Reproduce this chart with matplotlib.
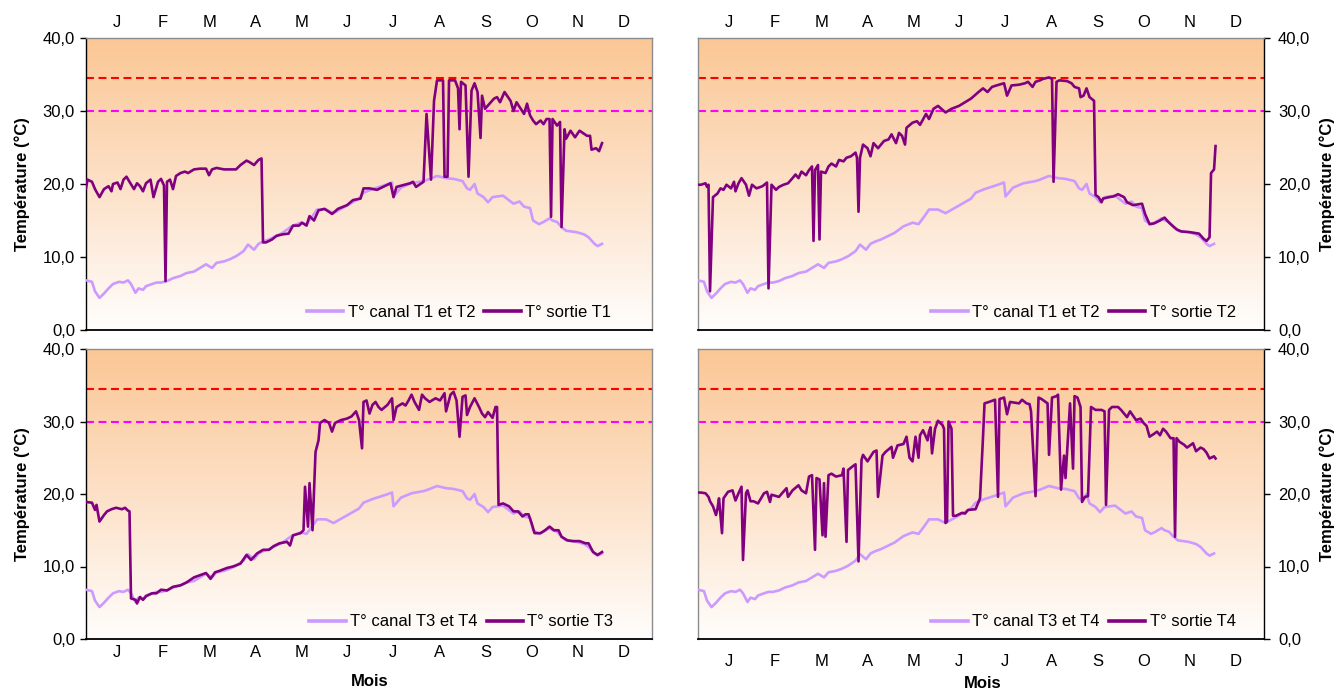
import numpy as np
import matplotlib
matplotlib.use('Agg')
import matplotlib.pyplot as plt
from matplotlib.colors import LinearSegmentedColormap
from matplotlib.lines import Line2D

plt.rcParams['font.family'] = ['Liberation Sans', 'DejaVu Sans']

# ---------------- data ----------------
mois = ['J', 'F', 'M', 'A', 'M', 'J', 'J', 'A', 'S', 'O', 'N', 'D']
y_ticks = [0, 10, 20, 30, 40]
y_ticklabels = ['0,0', '10,0', '20,0', '30,0', '40,0']
seuil_rouge = 34.5
seuil_magenta = 30.0

# canal temperature (same for T1/T2 and T3/T4), day index vs °C
canal_jours = [
    0, 4, 6, 9, 12, 15, 18, 22, 25, 28,
    30, 33, 35, 38, 40, 44, 47, 50, 54, 58,
    63, 67, 72, 76, 80, 84, 87, 92, 96, 100,
    105, 108, 112, 115, 118, 122, 126, 131, 137, 143,
    147, 151, 154, 160, 165, 171, 177, 182, 185, 191,
    200, 204, 205, 210, 217, 225, 228, 234, 240, 245,
    251, 254, 256, 259, 261, 265, 268, 271, 278, 285,
    289, 292, 296, 298, 302, 305, 309, 311, 314, 317,
    320, 327, 332, 335, 339, 341, 344]
canal_temp = [
    6.8, 6.6, 5.3, 4.4, 5.0, 5.7, 6.3, 6.6, 6.5, 6.8,
    6.3, 5.1, 5.7, 5.5, 6.0, 6.3, 6.5, 6.5, 6.7, 7.1,
    7.4, 7.8, 8.0, 8.5, 9.0, 8.5, 9.2, 9.4, 9.7, 10.1,
    10.8, 11.7, 11.0, 11.8, 12.1, 12.4, 12.8, 13.3, 14.2, 14.7,
    14.5, 15.6, 16.5, 16.5, 16.0, 16.7, 17.4, 18.0, 18.8, 19.3,
    19.9, 20.2, 18.3, 19.5, 20.1, 20.4, 20.6, 21.1, 20.8, 20.7,
    20.4, 19.4, 19.2, 20.0, 18.7, 18.2, 17.5, 18.2, 18.4, 17.3,
    17.6, 16.9, 16.7, 15.0, 14.5, 14.8, 15.3, 15.0, 14.8, 14.1,
    13.6, 13.4, 13.1, 12.7, 11.8, 11.5, 11.8]

t1_jours = [
    0, 1, 4, 6, 9, 12, 15, 17, 18, 21,
    23, 25, 27, 29, 32, 34, 36, 38, 40, 43,
    45, 48, 50, 52, 53, 54, 56, 58, 60, 63,
    66, 68, 72, 76, 80, 82, 84, 87, 92, 96,
    100, 103, 107, 109, 112, 115, 117, 118, 120, 124,
    127, 131, 135, 138, 142, 144, 147, 149, 152, 155,
    159, 164, 168, 174, 178, 183, 185, 189, 194, 203,
    205, 207, 216, 218, 220, 225, 227, 230, 232, 234,
    238, 239, 241, 242, 246, 248, 249, 250, 253, 255,
    257, 259, 261, 263, 264, 266, 269, 272, 274, 276,
    279, 283, 285, 287, 292, 294, 296, 298, 300, 303,
    305, 307, 309, 310, 311, 314, 316, 317, 319, 320,
    323, 326, 329, 334, 336, 337, 340, 342, 344]
t1_temp = [
    19.4, 20.6, 20.3, 19.3, 18.2, 19.3, 19.7, 19.0, 20.0, 20.2,
    19.3, 20.6, 21.0, 20.3, 19.3, 20.1, 19.7, 19.0, 20.1, 20.6,
    18.2, 20.3, 20.7, 19.8, 6.7, 20.3, 20.6, 19.3, 21.1, 21.5,
    21.7, 21.5, 22.0, 22.1, 22.1, 21.2, 22.0, 22.2, 22.0, 22.0,
    22.0, 22.6, 23.2, 23.0, 22.6, 23.3, 23.5, 12.0, 12.0, 12.4,
    12.9, 13.1, 13.2, 14.3, 14.3, 14.7, 14.3, 15.6, 15.0, 16.4,
    16.6, 15.9, 16.6, 17.1, 17.8, 18.0, 19.4, 19.4, 19.2, 20.1,
    18.2, 19.6, 20.1, 20.3, 19.6, 20.3, 29.6, 20.6, 31.4, 34.2,
    34.2, 21.0, 21.0, 34.2, 34.2, 33.1, 27.5, 34.0, 33.5, 21.0,
    32.8, 33.8, 32.6, 26.3, 32.1, 30.3, 31.0, 31.7, 31.9, 31.2,
    32.6, 31.4, 30.0, 31.2, 29.6, 31.0, 29.4, 28.7, 28.2, 28.7,
    28.2, 28.9, 28.9, 15.5, 28.9, 28.0, 28.5, 14.1, 27.5, 26.2,
    27.3, 26.4, 27.3, 26.6, 26.6, 24.7, 24.9, 24.5, 25.6]

t2_jours = [
    0, 2, 5, 6, 7, 8, 10, 13, 15, 17,
    19, 22, 24, 25, 27, 29, 32, 34, 36, 39,
    43, 46, 47, 49, 52, 54, 57, 60, 63, 65,
    67, 69, 72, 74, 76, 77, 78, 80, 81, 82,
    85, 87, 89, 92, 94, 97, 99, 102, 105, 106,
    107, 108, 110, 113, 115, 117, 120, 124, 127, 129,
    132, 134, 136, 138, 139, 143, 146, 148, 152, 154,
    157, 160, 165, 169, 174, 178, 182, 187, 190, 193,
    196, 199, 204, 206, 209, 214, 218, 220, 223, 225,
    228, 230, 234, 236, 237, 239, 241, 246, 249, 251,
    254, 255, 257, 259, 261, 264, 265, 267, 269, 270,
    274, 277, 280, 284, 286, 290, 296, 298, 301, 304,
    308, 311, 314, 319, 322, 328, 334, 337, 339, 341,
    342, 344, 345]
t2_temp = [
    19.9, 19.9, 20.1, 19.6, 19.9, 5.3, 18.2, 18.7, 19.4, 19.2,
    19.9, 19.4, 20.3, 19.0, 20.1, 20.8, 19.9, 18.4, 19.9, 19.4,
    19.7, 20.2, 5.7, 19.9, 19.2, 19.6, 19.9, 20.1, 20.8, 21.3,
    20.8, 21.7, 21.2, 21.9, 22.4, 12.2, 21.9, 22.6, 12.4, 21.7,
    21.5, 22.4, 22.8, 22.4, 23.3, 23.1, 23.6, 23.8, 24.3, 23.6,
    16.2, 23.6, 25.4, 24.9, 23.8, 25.6, 24.9, 25.9, 26.1, 26.8,
    25.6, 27.0, 26.6, 25.4, 27.7, 28.4, 28.6, 28.1, 29.6, 28.9,
    30.3, 30.7, 29.8, 30.3, 30.7, 31.2, 31.7, 32.6, 33.1, 32.6,
    33.3, 33.5, 33.8, 32.1, 33.5, 33.6, 33.8, 34.0, 33.3, 34.0,
    34.2, 34.4, 34.6, 34.4, 20.3, 34.0, 34.2, 34.1, 33.8, 33.3,
    33.1, 31.9, 32.1, 33.1, 31.9, 31.4, 18.5, 18.2, 17.5, 18.0,
    18.2, 18.3, 18.6, 18.2, 17.5, 17.1, 17.3, 15.9, 14.5, 14.6,
    15.0, 15.4, 14.7, 13.8, 13.5, 13.4, 13.2, 12.5, 12.2, 12.7,
    21.5, 22.0, 25.2]

t3_jours = [
    0, 4, 6, 7, 9, 12, 14, 17, 20, 24,
    26, 28, 29, 30, 33, 34, 36, 38, 40, 44,
    47, 50, 54, 58, 63, 67, 72, 76, 80, 83,
    86, 89, 94, 98, 103, 107, 110, 114, 118, 122,
    125, 129, 134, 136, 138, 143, 145, 146, 148, 149,
    151, 153, 155, 156, 159, 162, 164, 166, 170, 174,
    177, 180, 182, 184, 185, 187, 189, 191, 193, 195,
    197, 201, 204, 205, 207, 211, 213, 215, 217, 219,
    222, 224, 226, 229, 233, 236, 239, 240, 243, 245,
    247, 249, 251, 253, 254, 256, 259, 262, 264, 266,
    268, 271, 273, 274, 275, 278, 282, 285, 288, 291,
    293, 295, 297, 299, 303, 306, 309, 312, 315, 317,
    321, 325, 329, 333, 335, 338, 341, 344]
t3_temp = [
    18.9, 18.8, 17.8, 18.5, 16.2, 17.1, 17.6, 17.9, 18.1, 17.9,
    18.1, 17.7, 17.6, 5.6, 5.4, 4.9, 5.8, 5.4, 5.9, 6.3,
    6.3, 6.8, 6.7, 7.2, 7.4, 7.8, 8.5, 8.8, 9.1, 8.3,
    9.2, 9.4, 9.8, 10.0, 10.4, 11.6, 10.9, 11.8, 12.3, 12.3,
    12.8, 13.2, 13.4, 12.9, 14.3, 14.6, 15.0, 21.0, 15.5, 21.5,
    15.0, 25.8, 27.4, 29.8, 30.2, 29.8, 28.6, 29.8, 30.2, 30.4,
    30.7, 31.4, 30.2, 26.3, 32.7, 32.9, 31.1, 32.3, 32.7, 32.0,
    31.6, 32.3, 33.2, 30.2, 32.0, 32.5, 32.2, 32.9, 33.7, 32.7,
    31.6, 33.7, 33.2, 32.7, 33.2, 32.9, 33.9, 31.4, 33.7, 34.1,
    32.9, 27.9, 33.4, 33.6, 30.9, 32.0, 33.2, 32.0, 31.1, 30.6,
    31.3, 30.5, 32.0, 32.0, 18.5, 18.7, 18.3, 17.6, 17.6, 16.9,
    17.2, 17.2, 16.0, 14.6, 14.6, 15.0, 15.5, 15.0, 15.0, 14.1,
    13.6, 13.5, 13.5, 13.2, 13.2, 12.0, 11.6, 12.0]

t4_jours = [
    0, 2, 5, 7, 8, 10, 12, 13, 14, 16,
    17, 20, 23, 25, 27, 29, 30, 32, 33, 35,
    37, 40, 44, 46, 48, 49, 54, 56, 59, 60,
    63, 67, 69, 72, 74, 76, 78, 79, 81, 83,
    84, 85, 87, 89, 92, 96, 97, 99, 100, 103,
    105, 107, 109, 110, 113, 117, 119, 120, 123, 125,
    129, 130, 133, 137, 139, 141, 143, 145, 147, 148,
    150, 153, 154, 155, 156, 158, 160, 163, 164, 165,
    166, 167, 169, 170, 172, 176, 178, 180, 185, 187,
    188, 190, 191, 194, 198, 200, 201, 204, 206, 208,
    214, 216, 219, 221, 222, 225, 227, 229, 233, 234,
    236, 239, 240, 242, 244, 245, 248, 250, 251, 253,
    255, 256, 258, 260, 262, 265, 269, 271, 272, 274,
    276, 280, 282, 286, 288, 290, 292, 295, 297, 299,
    301, 304, 306, 308, 310, 312, 315, 317, 318, 319,
    321, 324, 326, 330, 332, 335, 337, 339, 341, 344,
    345]
t4_temp = [
    20.2, 20.2, 20.1, 19.6, 19.0, 18.3, 17.1, 18.0, 19.4, 14.6,
    19.4, 20.3, 20.5, 19.1, 20.1, 21.0, 10.9, 20.1, 20.5, 19.0,
    19.0, 18.7, 20.1, 20.3, 18.9, 19.9, 19.6, 20.1, 20.8, 19.6,
    20.5, 21.2, 20.5, 20.1, 22.4, 22.6, 12.3, 22.2, 22.0, 14.3,
    21.5, 14.1, 22.6, 22.8, 22.4, 22.6, 23.5, 13.4, 23.3, 23.8,
    24.1, 10.7, 24.7, 25.4, 24.5, 25.8, 26.0, 19.6, 25.3, 25.8,
    26.5, 25.0, 26.7, 26.9, 27.9, 25.0, 24.5, 27.9, 25.0, 28.1,
    28.8, 27.4, 28.6, 29.2, 25.6, 29.0, 30.1, 29.5, 29.0, 16.0,
    16.2, 30.0, 29.0, 17.0, 17.0, 17.4, 17.3, 17.8, 17.9, 18.9,
    19.4, 27.9, 32.5, 32.7, 33.0, 19.6, 33.1, 33.3, 31.0, 32.7,
    32.5, 33.0, 32.5, 32.4, 31.4, 19.7, 33.3, 33.1, 32.5, 25.4,
    33.3, 33.5, 33.7, 20.6, 25.3, 22.2, 32.5, 23.5, 33.5, 33.3,
    32.0, 18.9, 19.6, 19.7, 32.0, 31.6, 31.6, 31.4, 18.5, 31.6,
    32.0, 32.0, 31.6, 30.6, 31.4, 30.8, 30.2, 30.4, 29.8, 29.4,
    27.9, 28.3, 28.6, 28.1, 29.0, 28.6, 27.7, 27.7, 14.1, 27.7,
    27.2, 26.8, 26.4, 27.0, 25.9, 26.4, 26.2, 25.7, 24.9, 25.2,
    24.9]

# ---------------- layout ----------------
W, H = 1335, 690
XMAX = 377.3            # days shown across the plot width
MOIS0, MOIS_PAS = 20.7, 30.7

COL_CANAL = '#CC99FF'
COL_SORTIE = '#800080'
COL_ROUGE = '#FF0000'
COL_MAGENTA = '#FF00FF'

fig = plt.figure(figsize=(W / 100, H / 100), dpi=100)
fig.patch.set_facecolor('white')

bg_cmap = LinearSegmentedColormap.from_list(
    'bg', [(1.0, 0.995, 0.99), (0.99, 0.88, 0.78), (0.985, 0.78, 0.585)])
grad = np.linspace(0, 1, 256).reshape(-1, 1)

panels = [
    dict(box=(86, 38, 652, 330), side='left', mpos='top', mpad=5.5,
         sj=t1_jours, st=t1_temp, lc='T° canal T1 et T2', ls='T° sortie T1',
         legx=0.39, legy=0.059, ylab=(22, 184), mois_lab=None),
    dict(box=(698, 38, 1264, 330), side='right', mpos='top', mpad=5.5,
         sj=t2_jours, st=t2_temp, lc='T° canal T1 et T2', ls='T° sortie T2',
         legx=0.412, legy=0.059, ylab=(1327, 184), mois_lab=None),
    dict(box=(86, 349, 652, 639), side='left', mpos='bottom', mpad=4.0,
         sj=t3_jours, st=t3_temp, lc='T° canal T3 et T4', ls='T° sortie T3',
         legx=0.394, legy=0.059, ylab=(22, 494), mois_lab=(370, 682)),
    dict(box=(698, 349, 1264, 639), side='right', mpos='bottom', mpad=11.0,
         sj=t4_jours, st=t4_temp, lc='T° canal T3 et T4', ls='T° sortie T4',
         legx=0.412, legy=0.059, ylab=(1327, 494), mois_lab=(983, 684)),
]

for p in panels:
    l, t, r, b = p['box']
    ax = fig.add_axes([l / W, 1 - b / H, (r - l) / W, (b - t) / H])
    ax.set_xlim(0, XMAX)
    ax.set_ylim(0, 40)

    ax.imshow(grad, extent=[0, XMAX, 0, 40], origin='lower', aspect='auto',
              cmap=bg_cmap, zorder=0, interpolation='bicubic')

    ax.axhline(seuil_rouge, color=COL_ROUGE, lw=1.5, ls=(0, (3.8, 2.2)), zorder=2)
    ax.axhline(seuil_magenta, color=COL_MAGENTA, lw=1.5, ls=(0, (3.8, 2.2)), zorder=2)

    ax.plot(canal_jours, canal_temp, color=COL_CANAL, lw=1.9, zorder=3,
            solid_joinstyle='round')
    ax.plot(p['sj'], p['st'], color=COL_SORTIE, lw=1.9, zorder=4,
            solid_joinstyle='round')

    # y axis
    ax.set_yticks(y_ticks)
    ax.set_yticklabels(y_ticklabels)
    if p['side'] == 'right':
        ax.yaxis.tick_right()
        ax.tick_params(axis='y', direction='out', length=4, width=1,
                       labelsize=12, pad=6)
    else:
        ax.tick_params(axis='y', direction='out', length=4, width=1,
                       labelsize=12, pad=4)

    # month labels
    ax.set_xticks([MOIS0 + MOIS_PAS * k for k in range(len(mois))])
    ax.set_xticklabels(mois)
    if p['mpos'] == 'top':
        ax.xaxis.tick_top()
    ax.tick_params(axis='x', length=0, labelsize=12, pad=p['mpad'])

    # spines
    for s in ax.spines.values():
        s.set_color('#8c8c8c')
        s.set_linewidth(1.0)
    ax.spines['bottom'].set_color('black')
    ax.spines['bottom'].set_linewidth(1.3)
    ax.spines[p['side']].set_color('black')
    ax.spines[p['side']].set_linewidth(1.0)

    handles = [Line2D([], [], color=COL_CANAL, lw=2.6),
               Line2D([], [], color=COL_SORTIE, lw=2.6)]
    ax.legend(handles, [p['lc'], p['ls']], loc='center left',
              bbox_to_anchor=(p['legx'], p['legy']), ncol=2, frameon=False,
              fontsize=12, handlelength=2.2, handletextpad=0.25,
              columnspacing=0.55, borderpad=0, borderaxespad=0)

    fig.text(p['ylab'][0] / W, 1 - p['ylab'][1] / H, 'Température (°C)',
             rotation=90, ha='center', va='center', fontsize=12,
             fontweight='bold')
    if p['mois_lab'] is not None:
        fig.text(p['mois_lab'][0] / W, 1 - p['mois_lab'][1] / H, 'Mois',
                 ha='center', va='center', fontsize=12, fontweight='bold')

fig.savefig('out.png', dpi=100, facecolor='white')
